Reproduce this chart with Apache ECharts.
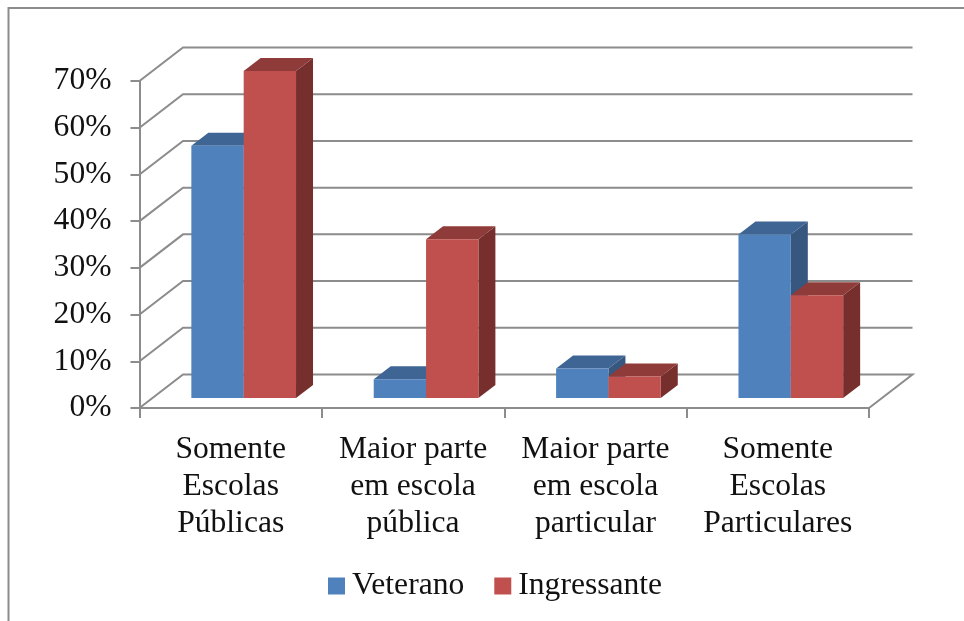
<!DOCTYPE html>
<html>
<head>
<meta charset="utf-8">
<title>Escolas</title>
<script src="https://cdn.jsdelivr.net/npm/echarts@6/dist/echarts.min.js"></script>
<style>
  html, body { margin: 0; padding: 0; background: #fff; }
  #chart { width: 964px; height: 621px; filter: blur(0.45px); }
</style>
</head>
<body>
<div id="chart"></div>
<script>
const categories = [
  'Somente\nEscolas\nPúblicas',
  'Maior parte\nem escola\npública',
  'Maior parte\nem escola\nparticular',
  'Somente\nEscolas\nParticulares'
]
const veterano = [54, 4, 6.3, 35]
const ingressante = [70, 34, 4.6, 22]
const yTicks = [0, 10, 20, 30, 40, 50, 60, 70]

const fontFamily = '"Liberation Serif", "Times New Roman", serif'
const fontSize = 31.6
const lineColor = '#8c8c8c'
// fake 3d: how far the back wall and the bars sit behind the front plane
const wallDepth = [43.5, -33.5]
const barShift = [13, -10]
const barDepth = [17, -13]
const barShare = 0.287

function poly(points, fill) {
  return { type: 'polygon', shape: { points }, style: { fill }, silent: true }
}

function barItem(slot, colors) {
  return (params, api) => {
    const band = api.size([1, 0])[0]
    const w = band * barShare
    const top = api.coord([api.value(0), api.value(1)])
    const base = api.coord([api.value(0), 0])
    const x0 = top[0] + barShift[0] + slot * w
    const x1 = x0 + w
    const y0 = top[1] + barShift[1]
    const y1 = base[1] + barShift[1]
    const dx = barDepth[0]
    const dy = barDepth[1]
    return {
      type: 'group',
      children: [
        poly([[x1, y0], [x1 + dx, y0 + dy], [x1 + dx, y1 + dy], [x1, y1]], colors.side),
        poly([[x0, y0], [x0 + dx, y0 + dy], [x1 + dx, y0 + dy], [x1, y0]], colors.top),
        poly([[x0, y0], [x1, y0], [x1, y1], [x0, y1]], colors.front)
      ]
    }
  }
}

// back wall and left wall lines, one per y tick
function wallItem(params, api) {
  const band = api.size([1, 0])[0]
  const p = api.coord([0, api.value(1)])
  const xLeft = p[0] - band / 2
  const xRight = api.coord([categories.length - 1, 0])[0] + band / 2
  const backY = p[1] + wallDepth[1]
  const points = [[xLeft, p[1]], [xLeft + wallDepth[0], backY], [xRight + wallDepth[0], backY]]
  if (api.value(1) === 0) points.push([xRight, p[1]])
  return {
    type: 'polyline',
    shape: { points },
    style: { stroke: lineColor, lineWidth: 2, fill: null },
    silent: true
  }
}

const chart = echarts.init(document.getElementById('chart'))
chart.setOption({
  animation: false,
  backgroundColor: '#fff',
  grid: { left: 139.5, right: 95, top: 81, bottom: 213 },
  legend: {
    data: ['Veterano', 'Ingressante'],
    left: 328,
    top: 570,
    padding: 0,
    icon: 'rect',
    itemWidth: 17,
    itemHeight: 17,
    itemGap: 30,
    textStyle: { fontFamily, fontSize, color: '#111', padding: [0, 0, 0, 2] }
  },
  xAxis: {
    type: 'category',
    data: categories,
    axisLine: { lineStyle: { color: lineColor, width: 2 } },
    axisTick: { show: true, alignWithLabel: false, length: 10, lineStyle: { color: lineColor, width: 2 } },
    axisLabel: { fontFamily, fontSize, lineHeight: 37, color: '#111', margin: 23, interval: 0 }
  },
  yAxis: {
    type: 'value',
    min: 0,
    max: 70,
    interval: 10,
    axisLine: { show: true, lineStyle: { color: lineColor, width: 2 } },
    axisTick: { show: true, length: 9, lineStyle: { color: lineColor, width: 2 } },
    axisLabel: { fontFamily, fontSize, color: '#111', margin: 28, padding: [7, 0, 0, 0], formatter: '{value}%' },
    splitLine: { show: false }
  },
  series: [
    {
      type: 'custom',
      name: 'grade',
      renderItem: wallItem,
      data: yTicks.map((v) => [0, v]),
      z: 1
    },
    {
      type: 'custom',
      name: 'Veterano',
      renderItem: barItem(-1, { front: '#4f81bd', top: '#3e6593', side: '#37577f' }),
      itemStyle: { color: '#4f81bd' },
      data: veterano.map((v, i) => [i, v]),
      z: 2
    },
    {
      type: 'custom',
      name: 'Ingressante',
      renderItem: barItem(0, { front: '#c0504d', top: '#8f3b39', side: '#772f2d' }),
      itemStyle: { color: '#c0504d' },
      data: ingressante.map((v, i) => [i, v]),
      z: 3
    }
  ],
  graphic: [
    {
      type: 'polyline',
      shape: { points: [[8.5, 621], [8.5, 8], [964, 8]] },
      style: { stroke: lineColor, lineWidth: 2, fill: null },
      silent: true
    }
  ]
})
</script>
</body>
</html>
